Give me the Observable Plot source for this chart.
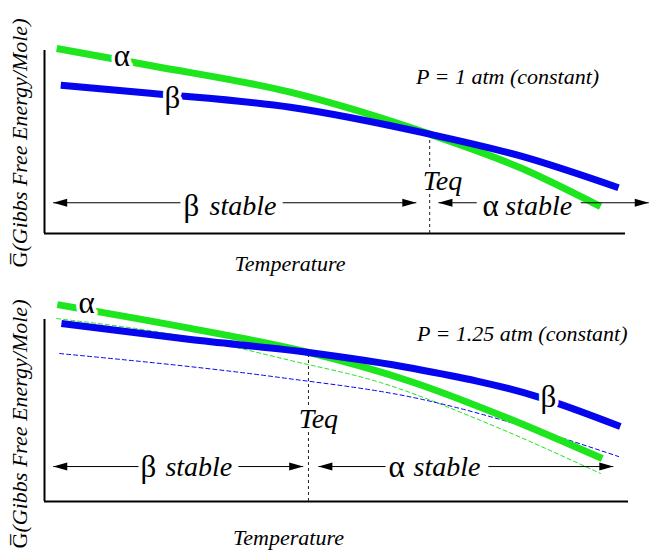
<!DOCTYPE html>
<html><head><meta charset="utf-8">
<script src="https://cdn.jsdelivr.net/npm/d3@7"></script>
<script src="https://cdn.jsdelivr.net/npm/@observablehq/plot@0.6"></script>
<style>
body{margin:0;background:#fff}
#chart svg{display:block;background:#fff}
</style>
</head><body><div id="chart"></div>
<script>
// ---------- Data (temperature T and molar Gibbs energy G, arbitrary units 0..100) ----------
// Panel 1 : P = 1 atm
const p1AlphaT = [2.1, 18.2, 42.3, 66.3, 81.9, 95.7];
const p1AlphaG = [101.1, 91.8, 77.2, 54.3, 35.9, 14.7];
const p1BetaT  = [2.8, 18.2, 42.3, 66.3, 81.9, 98.8];
const p1BetaG  = [81.0, 76.6, 69.0, 54.3, 42.4, 25.0];
const p1Teq = 66.3, p1TeqG = 54.3;
// Panel 2 : P = 1.25 atm (solid) and the P = 1 atm curves (dashed)
const p2AlphaT = [2.2, 25.0, 45.2, 63.2, 80.3, 95.5];
const p2AlphaG = [108.2, 95.1, 81.9, 65.4, 44.5, 23.6];
const p2BetaT  = [2.9, 25.0, 45.2, 63.2, 84.9, 98.6];
const p2BetaG  = [97.8, 89.0, 81.9, 73.1, 57.1, 41.2];
const p2AlphaOldT = [2.1, 25.0, 42.1, 57.5, 74.7, 95.2];
const p2AlphaOldG = [100.5, 90.1, 77.5, 65.4, 44.5, 15.4];
const p2BetaOldT  = [2.6, 40.4, 63.2, 86.1, 98.3];
const p2BetaOldG  = [81.3, 68.1, 57.1, 37.4, 24.7];
const p2Teq = 45.2, p2TeqG = 81.9;

// ---------- Text ----------
const pressureLabels = ["P = 1 atm (constant)", "P = 1.25 atm (constant)"];
const xTitle = "Temperature";
const yTitleSymbol = "G\u0305";
const yTitleRest = "(Gibbs Free Energy/Mole)";
const teqText = "Teq";
const phaseNames = ["α", "β"];
const stableWord = "stable";

const GREEN = "#1ee61e", BLUE = "#0505ee";
const SERIF = "'Liberation Serif', 'Times New Roman', serif";

const pts = (T, G) => T.map((t, i) => ({T: t, G: G[i]}));

// custom arrow-head symbols (tip at origin)
const headRight = {draw(c) { c.moveTo(0, 0); c.lineTo(-14, -4); c.lineTo(-14, 4); c.closePath(); }};
const headLeft  = {draw(c) { c.moveTo(0, 0); c.lineTo(14, -4); c.lineTo(14, 4); c.closePath(); }};

function panel(o) {
  const marks = [
    Plot.ruleX([0], {y1: 0, y2: 100, stroke: "black", strokeWidth: 2}),
    Plot.ruleY([0], {x1: 0, x2: 100, stroke: "black", strokeWidth: 2}),
    Plot.ruleX([o.teq], {y1: 0, y2: o.teqG, stroke: "#222", strokeWidth: 1, strokeDasharray: "3,3"}),
  ];
  for (const d of o.dashed || []) {
    marks.push(Plot.line(d.pts, {x: "T", y: "G", stroke: d.color, strokeWidth: 1, strokeDasharray: "4,3", curve: "monotone-x"}));
  }
  for (const d of o.curves) {
    marks.push(Plot.line(d.pts, {x: "T", y: "G", stroke: d.color, strokeWidth: 7, strokeLinecap: "butt", curve: "monotone-x"}));
  }
  // curve labels
  marks.push(Plot.text(o.curveLabels, {x: "T", y: "G", text: "text", fontSize: 31, fontFamily: SERIF,
    fill: "black", stroke: "white", strokeWidth: 7}));
  // Teq label
  marks.push(Plot.text([teqText], {x: o.teqLabel[0], y: o.teqLabel[1], fontSize: 28, fontFamily: SERIF,
    fontStyle: "italic", fill: "black", stroke: "white", strokeWidth: 6}));
  // arrows
  marks.push(Plot.link(o.arrows, {x1: "from", x2: "to", y1: o.arrowY, y2: o.arrowY, stroke: "black", strokeWidth: 1}));
  marks.push(Plot.dot(o.arrows.filter(a => a.to > a.from), {x: "to", y: o.arrowY, symbol: headRight, fill: "black", r: 5}));
  marks.push(Plot.dot(o.arrows.filter(a => a.to < a.from), {x: "to", y: o.arrowY, symbol: headLeft, fill: "black", r: 5}));
  // stable labels
  marks.push(Plot.text(o.stables, {x: "greekT", y: o.stableY, text: "greek", fontSize: 31, fontFamily: SERIF,
    textAnchor: "middle", fill: "black", stroke: "white", strokeWidth: 5}));
  marks.push(Plot.text(o.stables, {x: "wordT", y: o.stableY, text: () => stableWord, fontSize: 28, fontFamily: SERIF,
    fontStyle: "italic", textAnchor: "start", fill: "black", stroke: "white", strokeWidth: 5}));
  // pressure
  marks.push(Plot.text([o.pressure], {x: o.pPos[0], y: o.pPos[1], fontSize: 22, fontFamily: SERIF, fontStyle: "italic", fill: "black"}));
  // axis titles
  marks.push(Plot.text([xTitle], {frameAnchor: "bottom", dx: o.xTitleD[0], dy: o.xTitleD[1], fontSize: 22, fontFamily: SERIF, fontStyle: "italic", fill: "black"}));
  marks.push(Plot.text([yTitleSymbol], {frameAnchor: "bottom-left", rotate: -90, textAnchor: "start", dx: -18, dy: o.yTitleDy, fontSize: 22, fontFamily: SERIF, fill: "black"}));
  marks.push(Plot.text([yTitleRest], {frameAnchor: "bottom-left", rotate: -90, textAnchor: "start", dx: -18, dy: o.yTitleDy - 16, fontSize: 22, fontFamily: SERIF, fontStyle: "italic", fill: "black"}));

  return Plot.plot({
    width: 650, height: o.height,
    marginLeft: 44, marginRight: o.marginRight, marginTop: o.marginTop, marginBottom: o.marginBottom,
    style: {background: "white", overflow: "visible"},
    x: {domain: [0, 100], axis: null},
    y: {domain: [0, 100], axis: null},
    marks
  });
}

const chart1 = panel({
  height: 275, marginTop: 50, marginBottom: 42, marginRight: 25,
  curves: [{pts: pts(p1AlphaT, p1AlphaG), color: GREEN}, {pts: pts(p1BetaT, p1BetaG), color: BLUE}],
  curveLabels: [{T: 13.3, G: 96.7, text: phaseNames[0]}, {T: 22.0, G: 73.9, text: phaseNames[1]}],
  teq: p1Teq, teqG: p1TeqG, teqLabel: [68.5, 28.8],
  arrowY: 16.8,
  arrows: [{from: 23.4, to: 1.5}, {from: 41.0, to: 64.0}, {from: 74.4, to: 67.8}, {from: 92.3, to: 104.0}],
  stableY: 15.2,
  stables: [{greek: phaseNames[1], greekT: 25.3, wordT: 28.4}, {greek: phaseNames[0], greekT: 76.8, wordT: 79.3}],
  pressure: pressureLabels[0], pPos: [79.7, 85.3],
  xTitleD: [-45, 37], yTitleDy: 34
});

const chart2 = panel({
  height: 275, marginTop: 44, marginBottom: 49, marginRight: 22,
  dashed: [{pts: pts(p2AlphaOldT, p2AlphaOldG), color: GREEN}, {pts: pts(p2BetaOldT, p2BetaOldG), color: BLUE}],
  curves: [{pts: pts(p2AlphaT, p2AlphaG), color: GREEN}, {pts: pts(p2BetaT, p2BetaG), color: BLUE}],
  curveLabels: [{T: 7.2, G: 108.8, text: phaseNames[0]}, {T: 86.3, G: 57.1, text: phaseNames[1]}],
  teq: p2Teq, teqG: p2TeqG, teqLabel: [46.9, 45.1],
  arrowY: 19.2,
  arrows: [{from: 16.1, to: 1.5}, {from: 33.2, to: 44.3}, {from: 58.4, to: 46.9}, {from: 76.0, to: 97.4}],
  stableY: 18.7,
  stables: [{greek: phaseNames[1], greekT: 17.8, wordT: 20.7}, {greek: phaseNames[0], greekT: 60.3, wordT: 63.2}],
  pressure: pressureLabels[1], pPos: [81.8, 92.3],
  xTitleD: [-48, 43], yTitleDy: 47
});

const root = document.getElementById("chart");
root.appendChild(chart1);
root.appendChild(chart2);
</script></body></html>
